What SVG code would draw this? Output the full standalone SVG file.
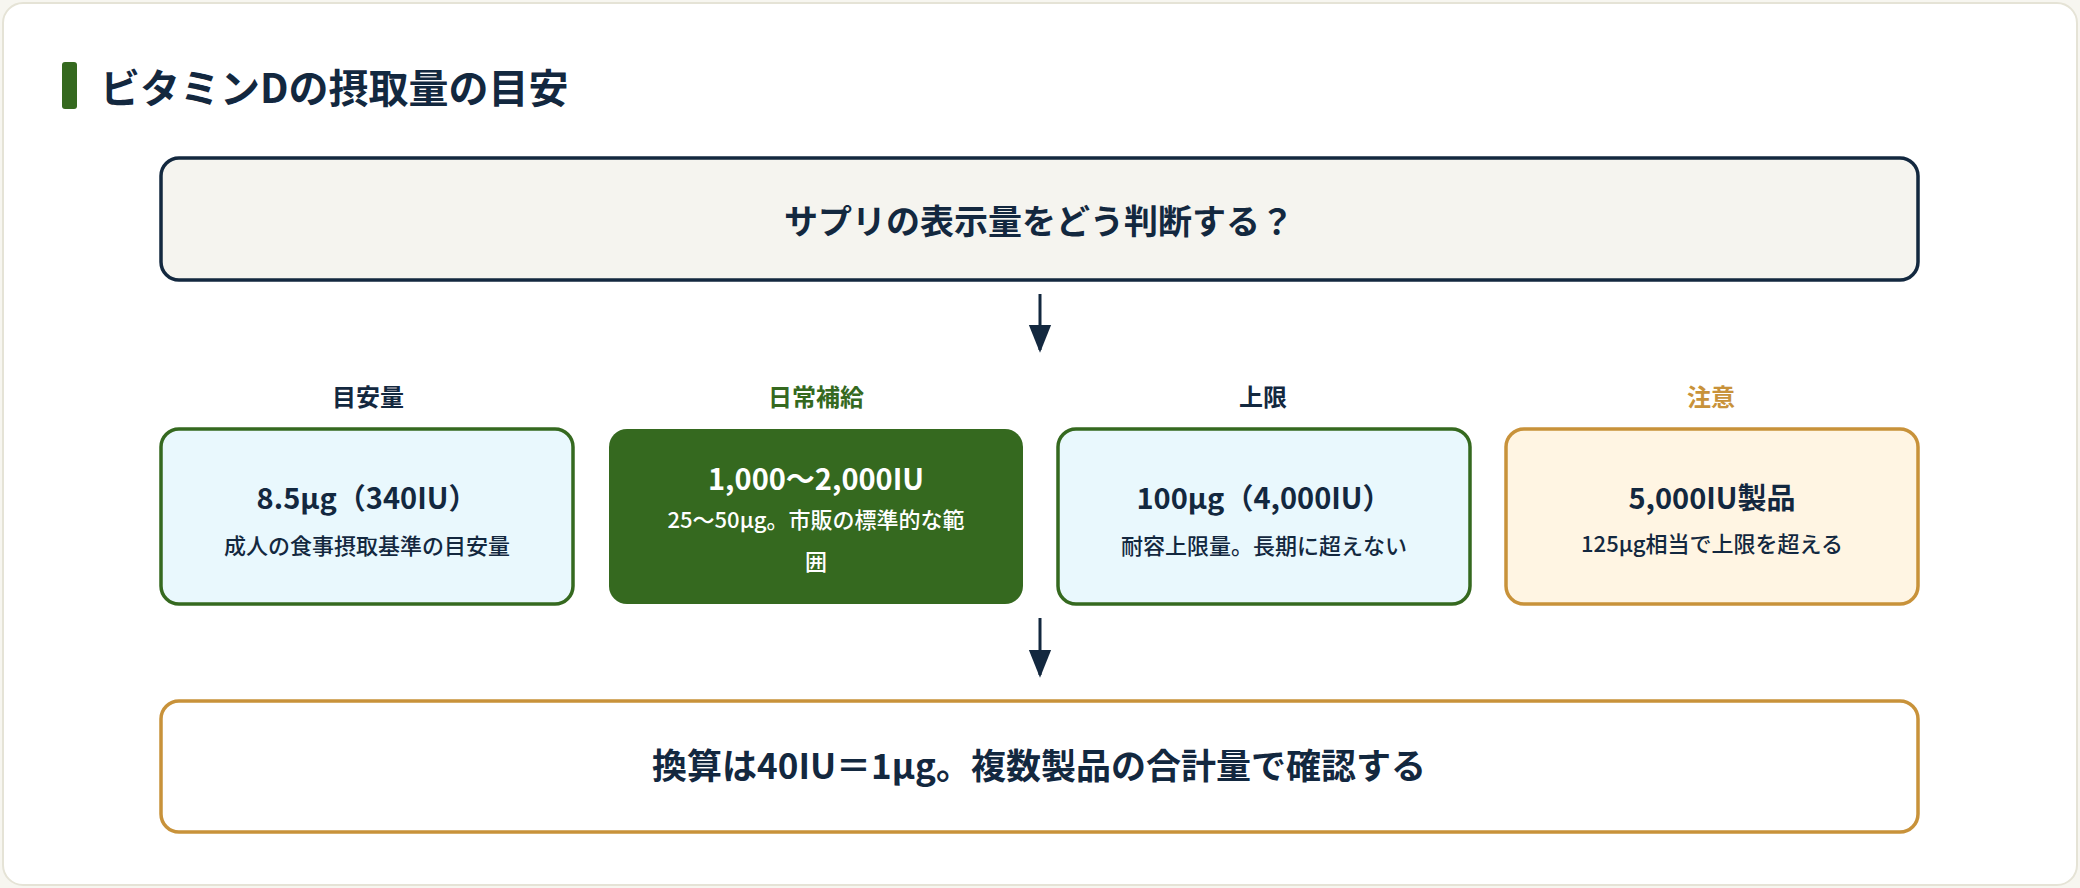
<svg xmlns="http://www.w3.org/2000/svg" width="2080" height="888" viewBox="0 0 2080 888">
<style>
text{font-family:"Noto Sans CJK JP","Noto Sans",sans-serif;text-anchor:middle;font-weight:700;fill:#13283f}
.lab{font-size:24px}
.main{font-size:29px}
.sub{font-size:22px;font-weight:500}
.blue{fill:#e9f8fd;stroke:#35691f;stroke-width:3.5}
.conn line{stroke:#13283f;stroke-width:3}
</style>
<defs><marker id="ah" markerWidth="10" markerHeight="10" refX="5" refY="5" orient="auto" markerUnits="userSpaceOnUse" viewBox="0 0 10 10"><path d="M0,0L10,5L0,10z" fill="#13283f"/></marker>
<marker id="a" viewBox="0 0 10 10" refX="9" refY="5" markerWidth="28" markerHeight="28" markerUnits="userSpaceOnUse" orient="auto"><path d="M0,1L10,5L0,9z" fill="#13283f"/></marker></defs>
<rect width="2080" height="888" fill="#f7f6f0"/>
<rect x="3" y="3" width="2074" height="882" rx="20" fill="#fff" stroke="#e5e3d6" stroke-width="2"/>
<g id="title"><rect x="62" y="62" width="15" height="47" rx="3" fill="#35691f"/><text x="100" y="103" style="font-size:40px;text-anchor:start">ビタミンDの摂取量の目安</text></g>
<g id="q"><rect x="161" y="158" width="1757" height="122" rx="18" fill="#f5f4ef" stroke="#13283f" stroke-width="3.5"/><text x="1039" y="234" style="font-size:34px">サプリの表示量をどう判断する？</text></g>
<g class="conn"><line x1="1040" y1="294" x2="1040" y2="350" marker-end="url(#a)"/><line x1="1040" y1="618" x2="1040" y2="675" marker-end="url(#a)"/></g>
<g id="n1"><text class="lab" x="368" y="406">目安量</text><rect class="blue" x="161" y="429" width="412" height="175" rx="18"/><text class="main" x="367" y="509">8.5μg（340IU）</text><text class="sub" x="367" y="554">成人の食事摂取基準の目安量</text></g>
<g id="n2"><text class="lab" x="816" y="406" style="fill:#35691f">日常補給</text><rect x="609" y="429" width="414" height="175" rx="18" fill="#35691f"/><text class="main" x="816" y="490" style="fill:#fff">1,000〜2,000IU</text><text class="sub" x="816" y="528" style="fill:#fff">25〜50μg。市販の標準的な範</text><text class="sub" x="816" y="570" style="fill:#fff">囲</text></g>
<g id="n3"><text class="lab" x="1263" y="406">上限</text><rect class="blue" x="1058" y="429" width="412" height="175" rx="18"/><text class="main" x="1264" y="509">100μg（4,000IU）</text><text class="sub" x="1264" y="554">耐容上限量。長期に超えない</text></g>
<g id="n4"><text class="lab" x="1711" y="406" style="fill:#c8923a">注意</text><rect x="1506" y="429" width="412" height="175" rx="18" fill="#fff5e3" stroke="#c8923a" stroke-width="3.5"/><text class="main" x="1712" y="509">5,000IU製品</text><text class="sub" x="1712" y="552">125μg相当で上限を超える</text></g>
<g id="c"><rect x="161" y="701" width="1757" height="131" rx="18" fill="#fff" stroke="#c8923a" stroke-width="3.5"/><text x="1039" y="779" style="font-size:35px">換算は40IU＝1μg。複数製品の合計量で確認する</text></g>
</svg>
